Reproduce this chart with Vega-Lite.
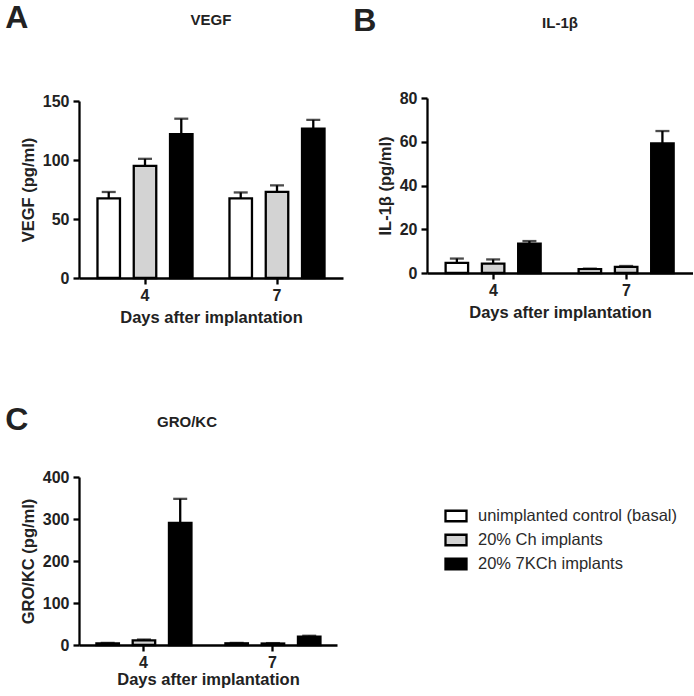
{
  "$schema": "https://vega.github.io/schema/vega-lite/v6.json",
  "background": "white",
  "padding": {"left": 5, "top": 2, "right": 0, "bottom": 0},
  "data": {"values": [
    {"panel": "VEGF", "day": "4", "group": "unimplanted control (basal)", "mean": 67.5, "upper": 72.9},
    {"panel": "VEGF", "day": "4", "group": "20% Ch implants", "mean": 95, "upper": 101},
    {"panel": "VEGF", "day": "4", "group": "20% 7KCh implants", "mean": 122, "upper": 135},
    {"panel": "VEGF", "day": "7", "group": "unimplanted control (basal)", "mean": 67.5, "upper": 72.5},
    {"panel": "VEGF", "day": "7", "group": "20% Ch implants", "mean": 73, "upper": 78.5},
    {"panel": "VEGF", "day": "7", "group": "20% 7KCh implants", "mean": 126.5, "upper": 134},
    {"panel": "IL", "day": "4", "group": "unimplanted control (basal)", "mean": 4.6, "upper": 6.6},
    {"panel": "IL", "day": "4", "group": "20% Ch implants", "mean": 4.3, "upper": 6.2},
    {"panel": "IL", "day": "4", "group": "20% 7KCh implants", "mean": 13.4, "upper": 14.6},
    {"panel": "IL", "day": "7", "group": "unimplanted control (basal)", "mean": 1.8, "upper": 2.0},
    {"panel": "IL", "day": "7", "group": "20% Ch implants", "mean": 2.8, "upper": 3.2},
    {"panel": "IL", "day": "7", "group": "20% 7KCh implants", "mean": 59.2, "upper": 64.9},
    {"panel": "GRO", "day": "4", "group": "unimplanted control (basal)", "mean": 4, "upper": 5},
    {"panel": "GRO", "day": "4", "group": "20% Ch implants", "mean": 11, "upper": 13},
    {"panel": "GRO", "day": "4", "group": "20% 7KCh implants", "mean": 291, "upper": 348},
    {"panel": "GRO", "day": "7", "group": "unimplanted control (basal)", "mean": 4, "upper": 5},
    {"panel": "GRO", "day": "7", "group": "20% Ch implants", "mean": 3.5, "upper": 4.5},
    {"panel": "GRO", "day": "7", "group": "20% 7KCh implants", "mean": 20, "upper": 22}
  ]},
  "spacing": 78,
  "vconcat": [
    {
      "spacing": 10,
      "hconcat": [
        {
          "title": {"text": "A", "anchor": "start", "fontSize": 32, "dx": -15, "offset": -22},
          "vconcat": [
            {
              "title": {"text": "VEGF", "fontSize": 15, "anchor": "middle", "frame": "group", "offset": 65},
              "width": 264,
              "height": 177,
              "transform": [{"filter": "datum.panel === 'VEGF'"}],
              "encoding": {
                "x": {"field": "day", "type": "nominal", "scale": {"paddingInner": 0.28, "paddingOuter": 0.14}, "axis": {"title": "Days after implantation", "labelAngle": 0, "labelPadding": 3, "titlePadding": 6}},
                "xOffset": {"field": "group", "type": "nominal", "sort": ["unimplanted control (basal)", "20% Ch implants", "20% 7KCh implants"], "scale": {"paddingInner": 0.38, "paddingOuter": 0}}
              },
              "layer": [
                {
                  "mark": {"type": "bar", "stroke": "black", "strokeWidth": 2.3},
                  "encoding": {
                    "y": {"field": "mean", "type": "quantitative", "scale": {"domain": [0, 150], "nice": false}, "axis": {"values": [0, 50, 100, 150], "title": "VEGF (pg/ml)"}},
                    "fill": {"field": "group", "type": "nominal", "scale": {"domain": ["unimplanted control (basal)", "20% Ch implants", "20% 7KCh implants"], "range": ["white", "#d3d3d3", "black"]},
                      "legend": {"title": null, "orient": "none", "legendX": 365, "legendY": 403, "symbolType": "M-1,-0.5H1V0.5H-1Z", "symbolSize": 441, "symbolStrokeColor": "black", "symbolStrokeWidth": 2.3, "labelFont": "Liberation Sans", "labelFontSize": 16.5, "labelFontWeight": "normal", "labelColor": "#2a2a2a", "labelOffset": 10, "rowPadding": 2, "labelLimit": 400}}
                  }
                },
                {
                  "mark": {"type": "rule", "strokeWidth": 2.3, "color": "black"},
                  "encoding": {"y": {"field": "mean", "type": "quantitative"}, "y2": {"field": "upper"}}
                },
                {
                  "mark": {"type": "tick", "thickness": 2.3, "size": 14, "color": "black"},
                  "encoding": {"y": {"field": "upper", "type": "quantitative"}}
                }
              ]
            }
          ]
        },
        {
          "title": {"text": "B", "anchor": "start", "fontSize": 32, "dx": -24, "offset": -22},
          "vconcat": [
            {
              "title": {"text": "IL-1β", "fontSize": 15, "anchor": "middle", "frame": "group", "offset": 59},
              "width": 266,
              "height": 172,
              "transform": [{"filter": "datum.panel === 'IL'"}],
              "encoding": {
                "x": {"field": "day", "type": "nominal", "scale": {"paddingInner": 0.28, "paddingOuter": 0.14}, "axis": {"title": "Days after implantation", "labelAngle": 0, "labelPadding": 3, "titlePadding": 6}},
                "xOffset": {"field": "group", "type": "nominal", "sort": ["unimplanted control (basal)", "20% Ch implants", "20% 7KCh implants"], "scale": {"paddingInner": 0.38, "paddingOuter": 0}}
              },
              "layer": [
                {
                  "mark": {"type": "bar", "stroke": "black", "strokeWidth": 2.3},
                  "encoding": {
                    "y": {"field": "mean", "type": "quantitative", "scale": {"domain": [0, 80], "nice": false, "range": [172, -3]}, "axis": {"values": [0, 20, 40, 60, 80], "title": "IL-1β (pg/ml)"}},
                    "fill": {"field": "group", "type": "nominal", "scale": {"domain": ["unimplanted control (basal)", "20% Ch implants", "20% 7KCh implants"], "range": ["white", "#d3d3d3", "black"]},
                      "legend": {"title": null, "orient": "none", "legendX": 365, "legendY": 403, "symbolType": "M-1,-0.5H1V0.5H-1Z", "symbolSize": 441, "symbolStrokeColor": "black", "symbolStrokeWidth": 2.3, "labelFont": "Liberation Sans", "labelFontSize": 16.5, "labelFontWeight": "normal", "labelColor": "#2a2a2a", "labelOffset": 10, "rowPadding": 2, "labelLimit": 400}}
                  }
                },
                {
                  "mark": {"type": "rule", "strokeWidth": 2.3, "color": "black"},
                  "encoding": {"y": {"field": "mean", "type": "quantitative"}, "y2": {"field": "upper"}}
                },
                {
                  "mark": {"type": "tick", "thickness": 2.3, "size": 14, "color": "black"},
                  "encoding": {"y": {"field": "upper", "type": "quantitative"}}
                }
              ]
            }
          ]
        }
      ]
    },
    {
      "title": {"text": "C", "anchor": "start", "fontSize": 32, "dx": -15, "offset": -22},
      "vconcat": [
        {
          "title": {"text": "GRO/KC", "fontSize": 15, "anchor": "middle", "frame": "group", "offset": 39, "dx": -21},
          "width": 258,
          "height": 168,
          "transform": [{"filter": "datum.panel === 'GRO'"}],
          "encoding": {
            "x": {"field": "day", "type": "nominal", "scale": {"paddingInner": 0.27, "paddingOuter": 0.135}, "axis": {"title": "Days after implantation", "labelAngle": 0, "labelPadding": 3, "titlePadding": 1.5}},
            "xOffset": {"field": "group", "type": "nominal", "sort": ["unimplanted control (basal)", "20% Ch implants", "20% 7KCh implants"], "scale": {"paddingInner": 0.38, "paddingOuter": 0}}
          },
          "layer": [
            {
              "mark": {"type": "bar", "stroke": "black", "strokeWidth": 2.3},
              "encoding": {
                "y": {"field": "mean", "type": "quantitative", "scale": {"domain": [0, 400], "nice": false}, "axis": {"values": [0, 100, 200, 300, 400], "title": "GRO/KC (pg/ml)"}},
                "fill": {"field": "group", "type": "nominal", "scale": {"domain": ["unimplanted control (basal)", "20% Ch implants", "20% 7KCh implants"], "range": ["white", "#d3d3d3", "black"]},
                  "legend": {"title": null, "orient": "none", "legendX": 365, "legendY": 403, "symbolType": "M-1,-0.5H1V0.5H-1Z", "symbolSize": 441, "symbolStrokeColor": "black", "symbolStrokeWidth": 2.3, "labelFont": "Liberation Sans", "labelFontSize": 16.5, "labelFontWeight": "normal", "labelColor": "#2a2a2a", "labelOffset": 10, "rowPadding": 2, "labelLimit": 400}}
              }
            },
            {
              "mark": {"type": "rule", "strokeWidth": 2.3, "color": "black"},
              "encoding": {"y": {"field": "mean", "type": "quantitative"}, "y2": {"field": "upper"}}
            },
            {
              "mark": {"type": "tick", "thickness": 2.3, "size": 14, "color": "black"},
              "encoding": {"y": {"field": "upper", "type": "quantitative"}}
            }
          ]
        }
      ]
    }
  ],
  "config": {
    "view": {"stroke": null},
    "font": "Liberation Sans",
    "title": {"font": "Liberation Sans", "fontWeight": "bold", "color": "#222"},
    "axis": {"domainColor": "black", "domainWidth": 2.3, "tickColor": "black", "tickWidth": 2.3, "tickSize": 6, "labelFont": "Liberation Sans", "labelFontWeight": "bold", "labelFontSize": 16, "labelColor": "#222", "titleFont": "Liberation Sans", "titleFontWeight": "bold", "titleFontSize": 16.5, "titleColor": "#222", "grid": false, "labelPadding": 4},
    "axisY": {"titlePadding": 6}
  }
}
